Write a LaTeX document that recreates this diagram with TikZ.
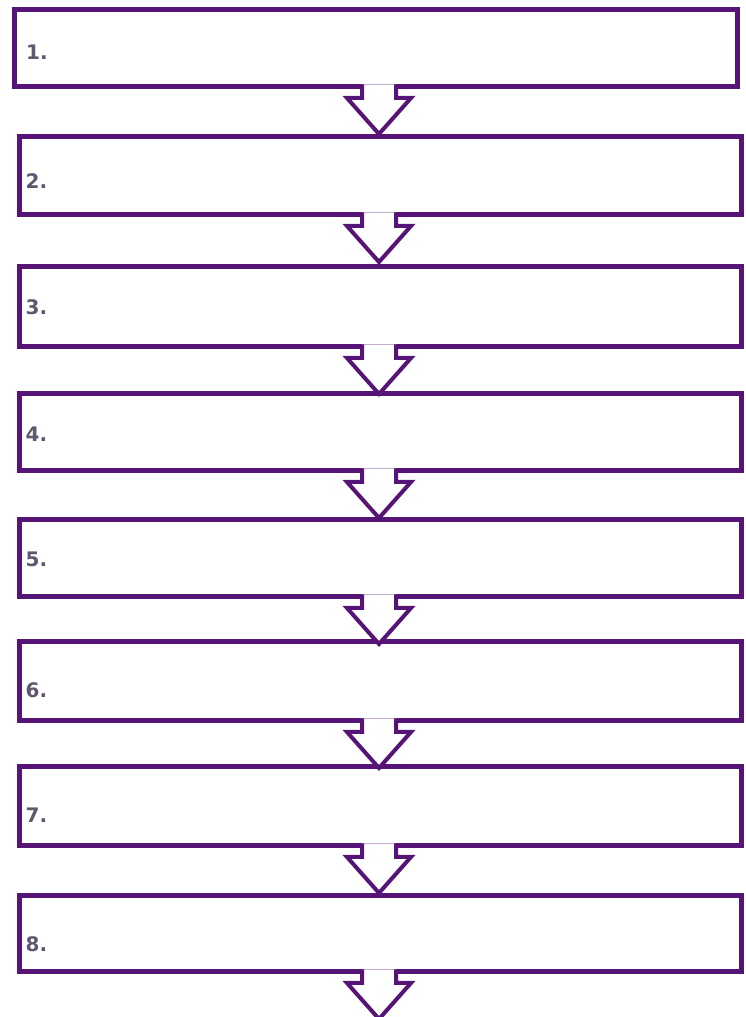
\documentclass[tikz,border=0pt]{standalone}
\usepackage{fontspec}
\newfontfamily\numfont{DejaVu Sans}
\definecolor{boxpurple}{RGB}{86,20,118}
\definecolor{numgray}{RGB}{96,86,112}
\begin{document}
\begin{tikzpicture}[x=1pt,y=1pt,
  stepbox/.style={draw=boxpurple, line width=5pt, fill=white, rectangle, outer sep=0pt, inner sep=0pt, anchor=north west},
  numlabel/.style={anchor=base west, inner sep=0pt, text=numgray, font=\numfont\bfseries\fontsize{20}{20}\selectfont},
  blockarrow/.style={draw=boxpurple, line width=4pt, fill=white, line join=miter}
]
\useasboundingbox (0,0) rectangle (746,1017);
\coordinate (ax) at (379,0);
% boxes: left, top, right, bottom, label x, label baseline (image coords, y down)
\foreach \i/\l/\t/\r/\b/\tx/\base in {
  1/14/10/737/87/26/60,
  2/19/137/741/215/25.5/189,
  3/19/267/741/347/25.5/315,
  4/19/394/741/471/25.5/442,
  5/19/520/741/597/25.5/567,
  6/19/642/741/721/25.5/698,
  7/19/767/741/846/25.5/823,
  8/19/896/741/972/25.5/952}{
  \node[stepbox, minimum width={\r-\l}, minimum height={\b-\t}] (b\i) at (\l,1017-\t) {};
  \node[numlabel] (n\i) at (\tx,1017-\base) {\i.\kern1pt};
}
% block arrows under each box
\foreach \i in {1,...,8}{
  \draw[blockarrow] ([shift={(-17,2.5)}]b\i.south -| ax) -- ++(0,-13.5) -- ++(-15,0)
     -- ([yshift=-47]b\i.south -| ax) -- ([shift={(32,-11)}]b\i.south -| ax)
     -- ++(-15,0) -- ++(0,13.5);
}
\end{tikzpicture}
\end{document}
